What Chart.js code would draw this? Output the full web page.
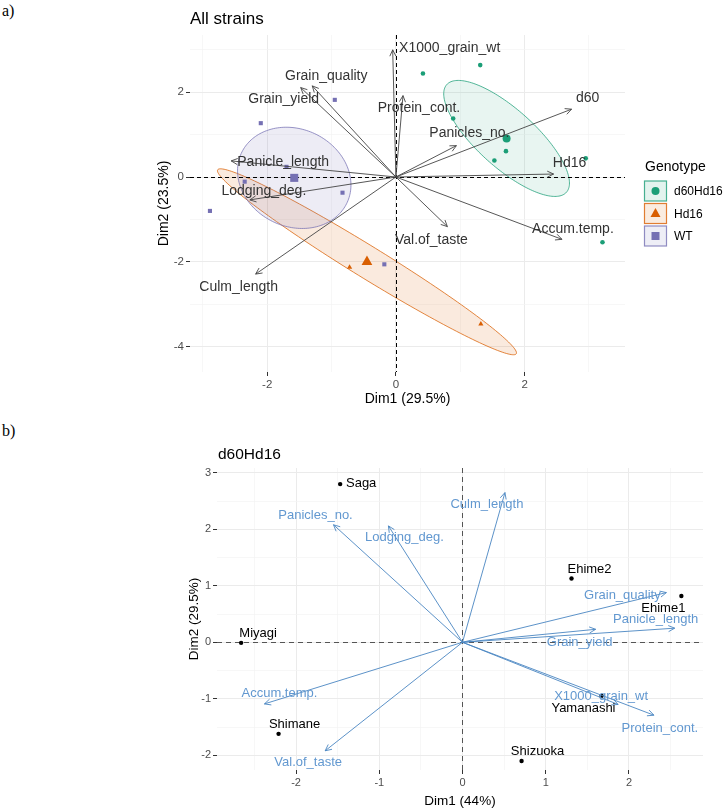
<!DOCTYPE html>
<html>
<head>
<meta charset="utf-8">
<script src="https://cdn.jsdelivr.net/npm/chart.js@4.4.1/dist/chart.umd.min.js"></script>
<style>
  html, body { margin: 0; padding: 0; background: #fff; }
  body { width: 726px; height: 810px; position: relative; overflow: hidden; }
  canvas { position: absolute; left: 0; }
  #topChart { top: 0; }
  #bottomChart { top: 420px; }
  .panel-tag { position: absolute; left: 2px; font-family: 'Liberation Serif', 'DejaVu Serif', serif; font-size: 16px; color: #000; }
</style>
</head>
<body>
<div class="panel-tag" style="top:2px">a)</div>
<div class="panel-tag" style="top:422px">b)</div>
<canvas id="topChart" width="726" height="410"></canvas>
<canvas id="bottomChart" width="726" height="390"></canvas>
<script>
const FONT = "'Liberation Sans', Arial, sans-serif";

// ---------- a) All strains ----------
const genotypes = ['d60Hd16', 'Hd16', 'WT'];
const genoColors = ['#1b9e77', '#d95f02', '#7570b3'];
const genoShapes = ['circle', 'triangle', 'rect'];

const d60Hd16X = [0.42, 1.31, 0.89, 1.71, 1.53, 2.95, 3.21];
const d60Hd16Y = [2.44, 2.64, 1.38, 0.61, 0.39, 0.44, -1.54];
const hd16X = [-0.72, 1.32];
const hd16Y = [-2.13, -3.47];
const wtX = [-0.95, -2.10, -1.70, -2.35, -0.83, -2.89, -0.18];
const wtY = [1.82, 1.27, 0.24, -0.11, -0.37, -0.80, -2.06];

// group means (big symbols)
const meanX = [1.72, -0.45, -1.58];
const meanY = [0.91, -2.00, -0.02];

// confidence ellipses: two semi-axis vectors per group, in data units
const ellipseA = [[0.93, -1.27], [2.32, -2.17], [0.88, -0.10]];
const ellipseB = [[0.30, 0.51], [0.13, 0.32], [-0.05, 1.19]];

const topVars = ['X1000_grain_wt', 'Grain_quality', 'Grain_yield', 'Protein_cont.', 'Panicles_no.', 'd60',
                 'Hd16', 'Accum.temp.', 'Val.of_taste', 'Culm_length', 'Lodging_deg.', 'Panicle_length'];
const topVarX = [-0.05, -1.30, -1.48, 0.11, 0.94, 2.73, 2.45, 2.58, 0.80, -2.18, -2.27, -2.56];
const topVarY = [3.00, 2.15, 2.11, 1.92, 0.74, 1.60, 0.07, -1.47, -1.17, -2.29, -0.54, 0.38];

const topXTicks = [-3, -2, -1, 0, 1, 2, 3];
const topXMajor = [-2, 0, 2];
const topYTicks = [-4, -3, -2, -1, 0, 1, 2, 3];
const topYMajor = [-4, -2, 0, 2];

// label nudges (pixels from arrow tip to label centre)
const topLabelDX = [57, 14, -17, 16, 13, 16, 16, 11, -16, -17, 14, 52];
const topLabelDY = [-2, -10, 12, 13, -12, -11, -11, -10, 14, 13, -9, 1];

// ---------- b) d60Hd16 ----------
const sites = ['Saga', 'Miyagi', 'Shimane', 'Ehime2', 'Ehime1', 'Yamanashi', 'Shizuoka'];
const siteX = [-1.47, -2.66, -2.21, 1.31, 2.63, 1.67, 0.71];
const siteY = [2.80, -0.01, -1.62, 1.13, 0.82, -0.95, -2.10];

const d60Vars = ['Panicles_no.', 'Lodging_deg.', 'Culm_length', 'Grain_quality', 'Panicle_length',
                 'Grain_yield', 'X1000_grain_wt', 'Protein_cont.', 'Accum.temp.', 'Val.of_taste'];
const d60VarX = [-1.55, -0.89, 0.51, 2.45, 2.55, 1.60, 1.87, 2.30, -2.38, -1.65];
const d60VarY = [2.08, 2.06, 2.65, 0.88, 0.25, 0.23, -1.10, -1.29, -1.09, -1.92];

const botXTicks = [-2.5, -2, -1.5, -1, -0.5, 0, 0.5, 1, 1.5, 2, 2.5];
const botXMajor = [-2, -1, 0, 1, 2];
const botYTicks = [-2, -1.5, -1, -0.5, 0, 0.5, 1, 1.5, 2, 2.5, 3];
const botYMajor = [-2, -1, 0, 1, 2, 3];

const siteLabelDX = [21, 17, 16, 18, -18, -18, 16];
const siteLabelDY = [-1, -9, -9, -9, 12, 12, -10];
const d60LabelDX = [-18, 16, -18, -44, -19, -16, -17, 6, 15, -17];
const d60LabelDY = [-9, 12, 12, 3, -9, 13, -8, 13, -10, 12];

// ---------- helpers ----------
function axis(min, max, ticks, majors, fontSize, fit) {
    const isMajor = c => c.tick && majors.includes(c.tick.value);
    return {
        type: 'linear', min, max,
        afterBuildTicks: s => { s.ticks = ticks.map(v => ({ value: v })); },
        afterFit: fit,
        ticks: {
            autoSkip: false, maxRotation: 0, padding: 2, color: '#4d4d4d',
            font: { family: FONT, size: fontSize },
            callback: v => majors.includes(v) ? String(v) : ''
        },
        grid: {
            color: c => isMajor(c) ? '#ebebeb' : '#f3f3f3',
            lineWidth: c => isMajor(c) ? 1 : 0.7,
            tickLength: 4,
            tickColor: c => isMajor(c) ? '#333' : 'rgba(0,0,0,0)'
        },
        border: { display: false }
    };
}

function arrowHead(ctx, x0, y0, x1, y1) {
    const ang = Math.atan2(y1 - y0, x1 - x0);
    const len = 7, spread = 0.45;
    ctx.beginPath();
    ctx.moveTo(x1 - len * Math.cos(ang - spread), y1 - len * Math.sin(ang - spread));
    ctx.lineTo(x1, y1);
    ctx.lineTo(x1 - len * Math.cos(ang + spread), y1 - len * Math.sin(ang + spread));
    ctx.stroke();
}

function zeroLines(chart, color, dash) {
    const { ctx, chartArea: a, scales: { x, y } } = chart;
    ctx.save();
    ctx.strokeStyle = color;
    ctx.lineWidth = 1;
    ctx.setLineDash(dash);
    const px = Math.round(x.getPixelForValue(0)) + 0.5;
    const py = Math.round(y.getPixelForValue(0)) + 0.5;
    ctx.beginPath();
    ctx.moveTo(a.left, py); ctx.lineTo(a.right, py);
    ctx.moveTo(px, a.top); ctx.lineTo(px, a.bottom);
    ctx.stroke();
    ctx.restore();
}

function rgba(hex, a) {
    const n = parseInt(hex.slice(1), 16);
    return `rgba(${n >> 16},${(n >> 8) & 255},${n & 255},${a})`;
}

function arrowSets(xs, ys, color) {
    return xs.map((vx, i) => ({
        data: [{ x: 0, y: 0 }, { x: vx, y: ys[i] }],
        showLine: true, borderColor: color, borderWidth: 0.9,
        pointRadius: 0
    }));
}

function pts(xs, ys) { return xs.map((v, i) => ({ x: v, y: ys[i] })); }

// ---------- chart a ----------
const topDecor = {
    id: 'topDecor',
    beforeDatasetsDraw(chart) {
        const { ctx, chartArea: a, scales: { x, y } } = chart;
        ctx.save();
        ctx.beginPath(); ctx.rect(a.left, a.top, a.width, a.height); ctx.clip();
        genotypes.forEach((g, i) => {
            ctx.beginPath();
            for (let k = 0; k <= 180; k++) {
                const t = k / 180 * Math.PI * 2;
                const vx = meanX[i] + ellipseA[i][0] * Math.cos(t) + ellipseB[i][0] * Math.sin(t);
                const vy = meanY[i] + ellipseA[i][1] * Math.cos(t) + ellipseB[i][1] * Math.sin(t);
                const px = x.getPixelForValue(vx), py = y.getPixelForValue(vy);
                k ? ctx.lineTo(px, py) : ctx.moveTo(px, py);
            }
            ctx.closePath();
            ctx.fillStyle = rgba(genoColors[i], i === 0 ? 0.1 : 0.13);
            ctx.fill();
            ctx.strokeStyle = rgba(genoColors[i], 0.75);
            ctx.lineWidth = 1;
            ctx.stroke();
        });
        ctx.restore();
        zeroLines(chart, '#000', [4, 3]);
    },
    afterDatasetsDraw(chart) {
        const { ctx, chartArea: a, scales: { x, y } } = chart;
        const ox = x.getPixelForValue(0), oy = y.getPixelForValue(0);
        ctx.save();
        ctx.strokeStyle = '#444';
        ctx.lineWidth = 0.9;
        topVars.forEach((v, i) => {
            arrowHead(ctx, ox, oy, x.getPixelForValue(topVarX[i]), y.getPixelForValue(topVarY[i]));
        });
        ctx.fillStyle = '#333';
        ctx.font = `14px ${FONT}`;
        ctx.textAlign = 'center';
        ctx.textBaseline = 'middle';
        topVars.forEach((v, i) => {
            ctx.fillText(v, x.getPixelForValue(topVarX[i]) + topLabelDX[i], y.getPixelForValue(topVarY[i]) + topLabelDY[i]);
        });

        // titles
        ctx.fillStyle = '#000';
        ctx.font = `17px ${FONT}`;
        ctx.textAlign = 'left';
        ctx.fillText('All strains', a.left, 19);
        ctx.font = `14px ${FONT}`;
        ctx.textAlign = 'center';
        ctx.fillText('Dim1 (29.5%)', (a.left + a.right) / 2, 399);
        ctx.save();
        ctx.translate(164, (a.top + a.bottom) / 2);
        ctx.rotate(-Math.PI / 2);
        ctx.fillText('Dim2 (23.5%)', 0, 0);
        ctx.restore();

        // legend
        ctx.textAlign = 'left';
        ctx.font = `14px ${FONT}`;
        ctx.fillText('Genotype', 645, 167);
        ctx.font = `12px ${FONT}`;
        genotypes.forEach((g, i) => {
            const top = 181 + i * 22.5, left = 644.5;
            ctx.fillStyle = rgba(genoColors[i], 0.12);
            ctx.fillRect(left, top, 22, 20);
            ctx.strokeStyle = rgba(genoColors[i], 0.8);
            ctx.lineWidth = 1.2;
            ctx.strokeRect(left, top, 22, 20);
            const cx = left + 11, cy = top + 10;
            ctx.fillStyle = genoColors[i];
            ctx.beginPath();
            if (genoShapes[i] === 'circle') ctx.arc(cx, cy, 4, 0, Math.PI * 2);
            else if (genoShapes[i] === 'triangle') { ctx.moveTo(cx, cy - 5.5); ctx.lineTo(cx + 5, cy + 3.5); ctx.lineTo(cx - 5, cy + 3.5); ctx.closePath(); }
            else ctx.rect(cx - 4, cy - 4, 8, 8);
            ctx.fill();
            ctx.fillStyle = '#000';
            ctx.fillText(g, 674, cy + 1);
        });
        ctx.restore();
    }
};

const groupXs = [d60Hd16X, hd16X, wtX];
const groupYs = [d60Hd16Y, hd16Y, wtY];
const smallR = [2.3, 3, 2.9];
const bigR = [4, 6.2, 5.7];

new Chart(document.getElementById('topChart'), {
    type: 'scatter',
    data: {
        datasets: [
            ...arrowSets(topVarX, topVarY, '#444'),
            ...genotypes.map((g, i) => ({
                label: g, data: [{ x: meanX[i], y: meanY[i] }],
                pointStyle: genoShapes[i], pointRadius: bigR[i], pointBorderWidth: 0,
                backgroundColor: genoColors[i], borderColor: genoColors[i]
            })),
            ...genotypes.map((g, i) => ({
                label: g, data: pts(groupXs[i], groupYs[i]),
                pointStyle: genoShapes[i], pointRadius: smallR[i], pointBorderWidth: 0,
                backgroundColor: genoColors[i], borderColor: genoColors[i]
            }))
        ]
    },
    options: {
        responsive: false, animation: false, events: [],
        layout: { padding: { left: 150, right: 101, top: 35, bottom: 20 } },
        plugins: { legend: { display: false }, tooltip: { enabled: false } },
        scales: {
            x: axis(-3.2, 3.56, topXTicks, topXMajor, 11.5, s => { s.height = 18; }),
            y: axis(-4.6, 3.35, topYTicks, topYMajor, 11.5, s => { s.width = 40; })
        }
    },
    plugins: [topDecor]
});

// ---------- chart b ----------
const botDecor = {
    id: 'botDecor',
    beforeDatasetsDraw(chart) {
        zeroLines(chart, '#555', [5, 4]);
    },
    afterDatasetsDraw(chart) {
        const { ctx, chartArea: a, scales: { x, y } } = chart;
        const ox = x.getPixelForValue(0), oy = y.getPixelForValue(0);
        ctx.save();
        ctx.strokeStyle = '#4a86c2';
        ctx.lineWidth = 0.9;
        d60Vars.forEach((v, i) => {
            arrowHead(ctx, ox, oy, x.getPixelForValue(d60VarX[i]), y.getPixelForValue(d60VarY[i]));
        });
        ctx.textAlign = 'center';
        ctx.textBaseline = 'middle';
        ctx.font = `13px ${FONT}`;
        ctx.fillStyle = '#000';
        sites.forEach((s, i) => {
            ctx.fillText(s, x.getPixelForValue(siteX[i]) + siteLabelDX[i], y.getPixelForValue(siteY[i]) + siteLabelDY[i]);
        });
        ctx.fillStyle = '#6298d0';
        d60Vars.forEach((v, i) => {
            ctx.fillText(v, x.getPixelForValue(d60VarX[i]) + d60LabelDX[i], y.getPixelForValue(d60VarY[i]) + d60LabelDY[i]);
        });

        ctx.fillStyle = '#000';
        ctx.textAlign = 'left';
        ctx.font = `15.5px ${FONT}`;
        ctx.fillText('d60Hd16', a.left + 1, 35);
        ctx.textAlign = 'center';
        ctx.font = `13.5px ${FONT}`;
        ctx.fillText('Dim1 (44%)', (a.left + a.right) / 2, 381);
        ctx.save();
        ctx.translate(194, (a.top + a.bottom) / 2);
        ctx.rotate(-Math.PI / 2);
        ctx.fillText('Dim2 (29.5%)', 0, 0);
        ctx.restore();
        ctx.restore();
    }
};

new Chart(document.getElementById('bottomChart'), {
    type: 'scatter',
    data: {
        datasets: [
            ...arrowSets(d60VarX, d60VarY, '#4a86c2'),
            {
                label: 'sites', data: pts(siteX, siteY),
                pointRadius: 2.2, pointBorderWidth: 0,
                backgroundColor: '#000', borderColor: '#000'
            }
        ]
    },
    options: {
        responsive: false, animation: false, events: [],
        layout: { padding: { left: 180, right: 23, top: 48, bottom: 22 } },
        plugins: { legend: { display: false }, tooltip: { enabled: false } },
        scales: {
            x: axis(-2.95, 2.89, botXTicks, botXMajor, 11, s => { s.height = 18; }),
            y: axis(-2.26, 3.085, botYTicks, botYMajor, 11, s => { s.width = 37; })
        }
    },
    plugins: [botDecor]
});
</script>
</body>
</html>
